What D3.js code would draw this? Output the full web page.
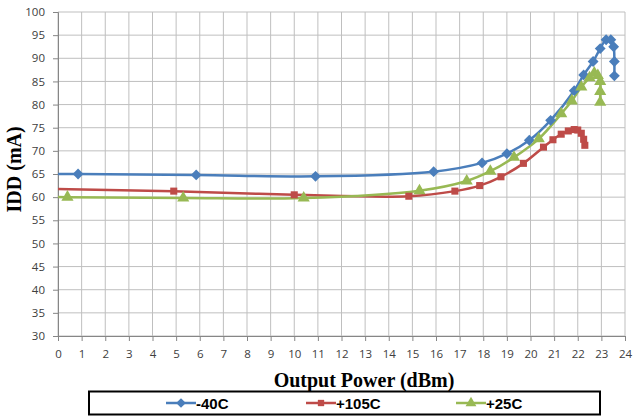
<!DOCTYPE html>
<html>
<head>
<meta charset="utf-8">
<script src="https://cdn.jsdelivr.net/npm/d3@7"></script>
<style>
  body { margin: 0; background: #fff; }
  svg { display: block; }
</style>
</head>
<body>
<div id="chart"></div>
<script>
// series data: [output power dBm, IDD mA]
const seriesNames = ["-40C", "+105C", "+25C"];
const seriesColors = ["#4A7EBB", "#BE4B48", "#98B954"];
const cold = [[-4.2,65.1],[0.85,65.0],[5.85,64.8],[10.9,64.5],[15.9,65.5],[17.95,67.4],[19.0,69.4],[19.95,72.3],[20.85,76.6],[21.85,83.0],[22.25,86.4],[22.65,89.3],[22.95,92.1],[23.2,94.0],[23.4,94.0],[23.52,92.5],[23.55,89.3],[23.55,86.2]];
const hot = [[-5,62.1],[4.9,61.3],[10.0,60.5],[14.85,60.2],[16.8,61.3],[17.85,62.5],[18.75,64.4],[19.7,67.3],[20.55,70.8],[20.95,72.4],[21.3,73.6],[21.6,74.3],[21.85,74.6],[22.0,74.5],[22.15,73.8],[22.25,72.5],[22.3,71.2]];
const room = [[-4.5,60.1],[0.4,60.0],[5.3,59.8],[10.4,59.8],[15.3,61.4],[17.3,63.5],[18.3,65.6],[19.3,68.6],[20.35,72.6],[21.3,78.0],[21.75,80.8],[22.15,83.8],[22.5,85.8],[22.7,86.8],[22.85,86.3],[22.95,85.0],[22.95,82.8],[22.95,80.5]];
const xTicks = d3.range(0, 25, 1);
const yTicks = d3.range(30, 101, 5);

const width = 633, height = 418;
const plotLeft = 58, plotRight = 625, plotTop = 12, plotBottom = 336;

const svg = d3.select("#chart").append("svg")
  .attr("width", width)
  .attr("height", height);

const x = d3.scaleLinear().domain([0, 24]).range([plotLeft, plotRight]);
const y = d3.scaleLinear().domain([30, 100]).range([plotBottom, plotTop]);

// gridlines
svg.append("g").selectAll("line").data(xTicks).join("line")
  .attr("x1", d => x(d)).attr("x2", d => x(d))
  .attr("y1", plotTop).attr("y2", plotBottom)
  .attr("stroke", "#BFBFBF").attr("stroke-width", 1);
svg.append("g").selectAll("line").data(yTicks).join("line")
  .attr("x1", plotLeft).attr("x2", plotRight)
  .attr("y1", d => y(d)).attr("y2", d => y(d))
  .attr("stroke", "#BFBFBF").attr("stroke-width", 1);

// axes
const xAxis = svg.append("g")
  .attr("transform", `translate(0,${plotBottom})`)
  .call(d3.axisBottom(x).tickValues(xTicks).tickSize(5).tickPadding(9).tickFormat(d3.format("d")));
const yAxis = svg.append("g")
  .attr("transform", `translate(${plotLeft},0)`)
  .call(d3.axisLeft(y).tickValues(yTicks).tickSize(5).tickPadding(8).tickFormat(d3.format("d")));
[xAxis, yAxis].forEach(a => {
  a.select(".domain").attr("stroke", "#868686");
  a.selectAll(".tick line").attr("stroke", "#868686");
  a.selectAll("text").attr("fill", "#404040")
    .style("font-family", "'Open Sans', 'Liberation Sans', sans-serif")
    .style("font-size", "11.5px");
});

// axis titles
svg.append("text")
  .attr("x", 364).attr("y", 387)
  .attr("text-anchor", "middle")
  .style("font-family", "'Liberation Serif', 'Times New Roman', serif")
  .style("font-weight", "bold").style("font-size", "20px")
  .text("Output Power (dBm)");
svg.append("text")
  .attr("transform", `translate(21,${y(66)}) rotate(-90)`)
  .attr("text-anchor", "middle")
  .style("font-family", "'Liberation Serif', 'Times New Roman', serif")
  .style("font-weight", "bold").style("font-size", "20px")
  .text("IDD (mA)");

// clip so the leading points stay inside the plot
svg.append("clipPath").attr("id", "plot-clip")
  .append("rect").attr("x", plotLeft).attr("y", plotTop - 10)
  .attr("width", plotRight - plotLeft).attr("height", plotBottom - plotTop + 10);

const line = d3.line()
  .x(d => x(d[0])).y(d => y(d[1]))
  .curve(d3.curveCatmullRom.alpha(0.5));

const allSeries = [cold, hot, room];
const symbols = [d3.symbolDiamond2, d3.symbolSquare, d3.symbolTriangle];
const symbolSizes = [75, 50, 64];

const plot = svg.append("g").attr("clip-path", "url(#plot-clip)");
allSeries.forEach((data, i) => {
  plot.append("path")
    .datum(data)
    .attr("d", line)
    .attr("fill", "none")
    .attr("stroke", seriesColors[i])
    .attr("stroke-width", 2.5);
});
allSeries.forEach((data, i) => {
  plot.append("g").selectAll("path")
    .data(data.filter(d => d[0] >= 0))
    .join("path")
    .attr("transform", d => `translate(${x(d[0])},${y(d[1])})`)
    .attr("d", d3.symbol().type(symbols[i]).size(symbolSizes[i]))
    .attr("fill", seriesColors[i]);
});

// legend
svg.append("rect")
  .attr("x", 89).attr("y", 391.5).attr("width", 511).attr("height", 23)
  .attr("fill", "#fff").attr("stroke", "#000").attr("stroke-width", 2);
const legendX = [166, 306, 456];
seriesNames.forEach((name, i) => {
  const g = svg.append("g").attr("transform", `translate(${legendX[i]},403)`);
  g.append("line").attr("x1", 0).attr("x2", 30)
    .attr("stroke", seriesColors[i]).attr("stroke-width", 2.5);
  g.append("path").attr("transform", "translate(15,0)")
    .attr("d", d3.symbol().type(symbols[i]).size(symbolSizes[i] * 0.8))
    .attr("fill", seriesColors[i]);
  g.append("text").attr("x", 30).attr("y", 5.5)
    .style("font-family", "'Liberation Sans Narrow', 'Liberation Sans', sans-serif")
    .style("font-weight", "bold")
    .style("font-size", "15px").attr("fill", "#000")
    .text(name);
});
</script>
</body>
</html>
